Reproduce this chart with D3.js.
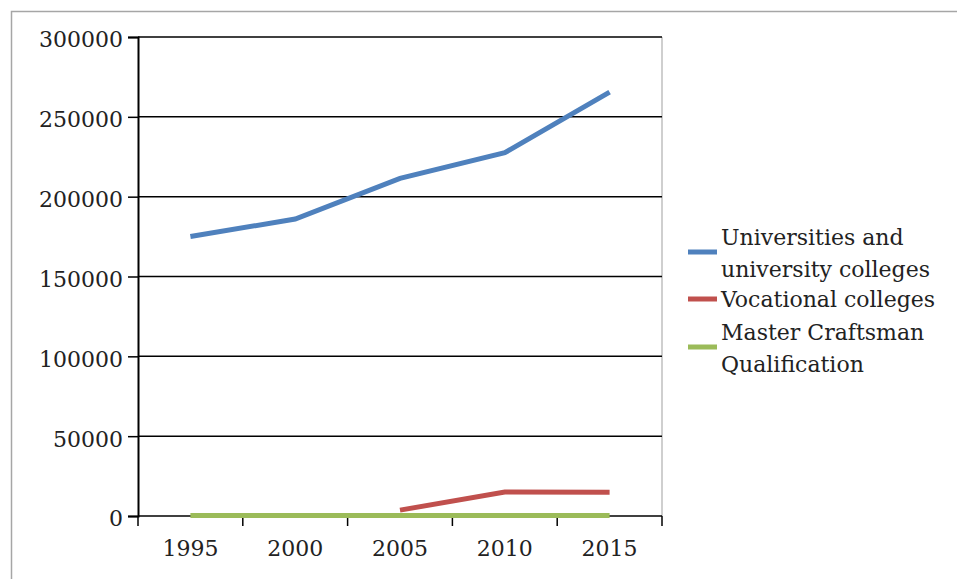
<!DOCTYPE html>
<html>
<head>
<meta charset="utf-8">
<script src="https://cdn.jsdelivr.net/npm/d3@7"></script>
<style>
  body { margin: 0; background: #fff; }
  text { font-family: "DejaVu Serif", serif; fill: #222; }
</style>
</head>
<body>
<div id="chart"></div>
<script>
// data
var years = ["1995", "2000", "2005", "2010", "2015"];
var universities = [175000, 186000, 211500, 227500, 265500];
var vocational = [null, null, 3700, 15000, 14800];
var masterCraftsman = [300, 300, 300, 300, 300];
var yTicks = [0, 50000, 100000, 150000, 200000, 250000, 300000];
var seriesNames = ["Universities and|university colleges", "Vocational colleges", "Master Craftsman|Qualification"];
var seriesColors = ["#4f81bd", "#c0504d", "#9bbb59"];

var width = 957, height = 579;
var margin = {top: 37, left: 138, right: 295, bottom: 63};

var svg = d3.select("#chart")
  .append("svg")
    .attr("width", width)
    .attr("height", height);

// outer chart frame
svg.append("rect")
  .attr("x", 11.5).attr("y", 11.5)
  .attr("width", width + 20).attr("height", height + 20)
  .style("fill", "none")
  .style("stroke", "#a6a6a6")
  .style("stroke-width", 1.5);

var x = d3.scaleBand()
  .domain(years)
  .range([margin.left, width - margin.right]);

var y = d3.scaleLinear()
  .domain([0, 300000])
  .range([height - margin.bottom, margin.top]);

// grey right border of plot area
svg.append("line")
  .attr("x1", width - margin.right).attr("x2", width - margin.right)
  .attr("y1", margin.top).attr("y2", y(0))
  .style("stroke", "#bfbfbf")
  .style("stroke-width", 1.5);

// gridlines + y axis
var yAxis = svg.append("g")
  .attr("transform", "translate(" + margin.left + ",0)")
  .call(d3.axisLeft(y).tickValues(yTicks).tickSize(10).tickPadding(5).tickFormat(d3.format("d")));
yAxis.select(".domain").style("stroke", "#000").style("stroke-width", 2);
yAxis.selectAll(".tick line").style("stroke", "#000").style("stroke-width", 1.5);
yAxis.selectAll(".tick text")
  .attr("dy", "0.45em")
  .style("font-size", "22px")
  .style("font-family", "DejaVu Serif")
  .style("fill", "#222");

svg.append("g")
  .selectAll("line")
  .data(yTicks)
  .enter()
  .append("line")
    .attr("x1", margin.left)
    .attr("x2", width - margin.right)
    .attr("y1", function(d) { return y(d); })
    .attr("y2", function(d) { return y(d); })
    .style("stroke", "#000")
    .style("stroke-width", 1.5);

// x axis: ticks on category boundaries
var boundaries = years.map(function(d) { return x(d); }).concat([x.range()[1]]);
var xg = svg.append("g");
xg.selectAll("line")
  .data(boundaries)
  .enter()
  .append("line")
    .attr("x1", function(d) { return d; })
    .attr("x2", function(d) { return d; })
    .attr("y1", y(0))
    .attr("y2", y(0) + 10)
    .style("stroke", "#000")
    .style("stroke-width", 1.5);
xg.selectAll("text")
  .data(years)
  .enter()
  .append("text")
    .attr("x", function(d) { return x(d) + x.bandwidth() / 2; })
    .attr("y", y(0) + 40)
    .attr("text-anchor", "middle")
    .style("font-size", "22px")
    .text(function(d) { return d; });

// lines
var allSeries = [universities, vocational, masterCraftsman];
var line = d3.line()
  .defined(function(d) { return d != null; })
  .x(function(d, i) { return x(years[i]) + x.bandwidth() / 2; })
  .y(function(d) { return y(d); });

svg.selectAll(".series")
  .data(allSeries)
  .enter()
  .append("path")
    .attr("class", "series")
    .attr("d", line)
    .style("fill", "none")
    .style("stroke", function(d, i) { return seriesColors[i]; })
    .style("stroke-width", 5);

// legend
var legendTop = [252, 299, 347];
var legend = svg.append("g");
seriesNames.forEach(function(name, i) {
  legend.append("line")
    .attr("x1", 688).attr("x2", 717)
    .attr("y1", legendTop[i]).attr("y2", legendTop[i])
    .style("stroke", seriesColors[i])
    .style("stroke-width", 5);
  var lines = name.split("|");
  var t = legend.append("text")
    .attr("x", 721)
    .style("font-size", "22px");
  lines.forEach(function(l, j) {
    var y0 = lines.length === 1 ? legendTop[i] + 8 : legendTop[i] - 7 + j * 32;
    t.append("tspan").attr("x", 721).attr("y", y0).text(l);
  });
});
</script>
</body>
</html>
